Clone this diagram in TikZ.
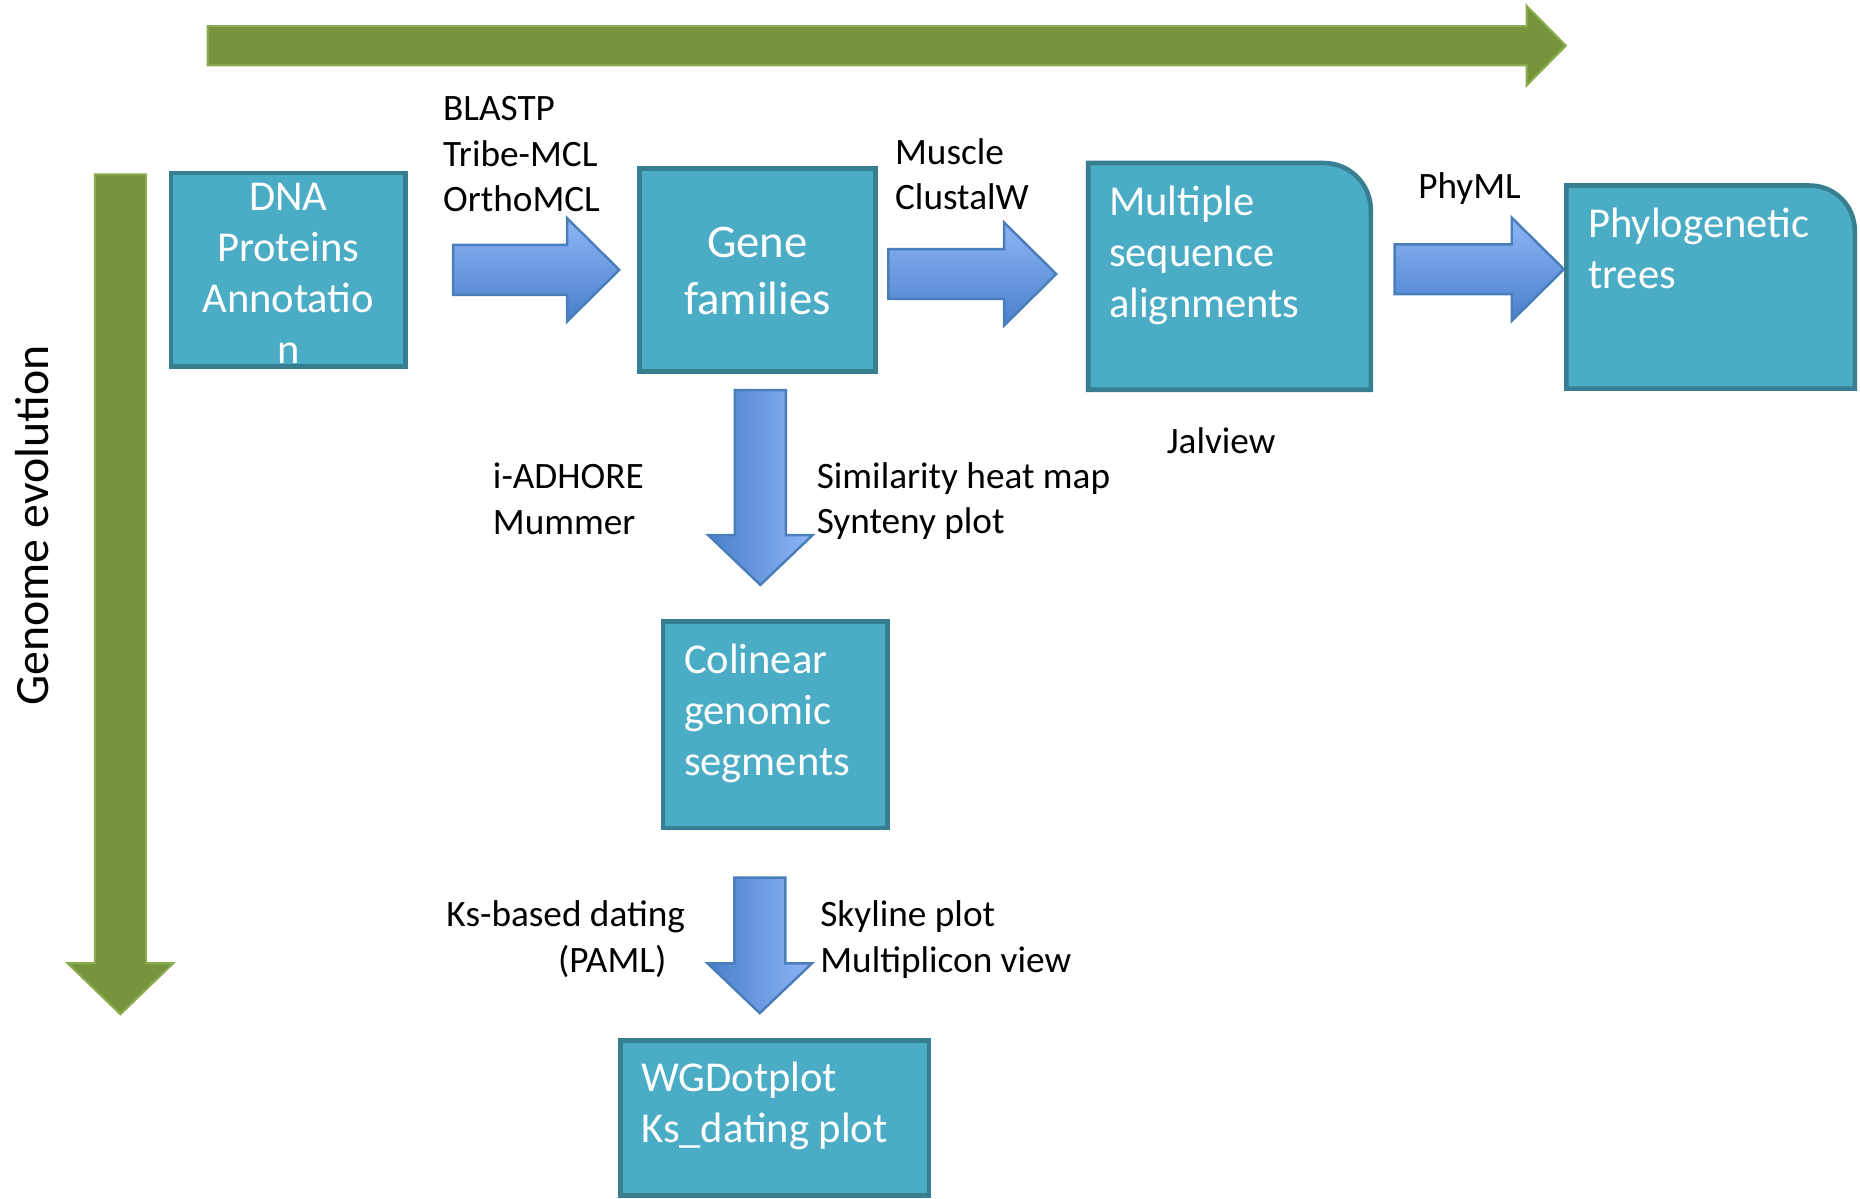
\documentclass[tikz,border=0pt]{standalone}
\usepackage{fontspec}
\setmainfont{Carlito}
\usetikzlibrary{calc, fit}

\definecolor{evogreen}{RGB}{119,147,60}
\definecolor{evoedge}{RGB}{138,172,78}
\definecolor{boxfill}{RGB}{75,172,198}
\definecolor{boxline}{RGB}{56,126,145}
\definecolor{arrowlight}{RGB}{143,182,245}
\definecolor{arrowdark}{RGB}{72,127,204}
\definecolor{arrowline}{RGB}{74,126,187}

% block arrows: #1 = start of shaft, #2 = tip
\newcommand{\rightblock}[2]{%
  \draw[blockarrow, top color=arrowlight, bottom color=arrowdark]
    ($(#1)+(0,-21)$) -- ($(#2)+(-44,-21)$) -- ($(#2)+(-44,-43.5)$) -- (#2)
    -- ($(#2)+(-44,43.5)$) -- ($(#2)+(-44,21)$) -- ($(#1)+(0,21)$) -- cycle;}
\newcommand{\downblock}[2]{%
  \draw[blockarrow, left color=arrowdark, right color=arrowlight]
    ($(#1)+(-21.5,0)$) -- ($(#2)+(-21.5,-42)$) -- ($(#2)+(-44,-42)$) -- (#2)
    -- ($(#2)+(44,-42)$) -- ($(#2)+(21.5,-42)$) -- ($(#1)+(21.5,0)$) -- cycle;}

\begin{document}
\begin{tikzpicture}[x=0.11862mm, y=-0.11862mm,
  stage/.style={draw=boxline, fill=boxfill, line width=1.3pt},
  stagebox/.style={stage, rectangle, inner sep=0pt},
  stagetext/.style={text=white, font=\fontsize{12.1}{14.5}\selectfont, align=left, inner sep=0pt, anchor=north west},
  tool/.style={font=\fontsize{10.6}{12.9}\selectfont, align=left, inner sep=0pt, anchor=north west},
  blockarrow/.style={draw=arrowline, line width=0.7pt, line join=miter},
  evoarrow/.style={fill=evogreen, draw=evoedge, line width=0.6pt}]
  \useasboundingbox (0,0) rectangle (1568,1010);

  % --- green axes ---
  \filldraw[evoarrow] (175,22) -- (1287,22) -- (1287,5) -- (1320,38.5)
    -- (1287,72) -- (1287,55) -- (175,55) -- cycle;
  \filldraw[evoarrow] (80,147) -- (123,147) -- (123,812) -- (146,812)
    -- (101.5,855) -- (57,812) -- (80,812) -- cycle;
  \node[rotate=90, anchor=base, inner sep=0pt, font=\fontsize{13.6}{16}\selectfont] (genome) at (41,443) {Genome evolution};

  % --- boxes ---
  \node[stagebox, fit={(144,146) (342,309)}] (dna) {};
  \node[stagetext, anchor=center, align=center] (dnatext) at ($(dna.center)+(0,3)$) {DNA\\Proteins\\Annotatio\\n};

  \node[stagebox, fit={(539,142) (738,313)}] (gene) {};
  \node[stagetext, anchor=center, align=center, font=\fontsize{13.3}{16.2}\selectfont] (genetext) at ($(gene.center)+(0,1)$) {Gene\\families};

  % rounded top right corner
  \node[fit={(918,138) (1155,328)}, inner sep=0pt] (msa) {};
  \filldraw[stage] (msa.south west) -- (msa.north west) [rounded corners=4.7mm] -- (msa.north east)
    [sharp corners] -- (msa.south east) -- cycle;
  \node[stagetext] (msatext) at ($(msa.north west)+(17,19)$) {Multiple\\sequence\\alignments};

  \node[fit={(1321,157) (1563,327)}, inner sep=0pt] (tree) {};
  \filldraw[stage] (tree.south west) -- (tree.north west) [rounded corners=4.5mm] -- (tree.north east)
    [sharp corners] -- (tree.south east) -- cycle;
  \node[stagetext] (treetext) at ($(tree.north west)+(18,18)$) {Phylogenetic\\trees};

  \node[stagebox, fit={(559,524) (748,698)}] (col) {};
  \node[stagetext] (coltext) at ($(col.north west)+(19,20)$) {Colinear\\genomic\\segments};

  \node[stagebox, fit={(523,877) (783,1008)}] (wgd) {};
  \node[stagetext] (wgdtext) at ($(wgd.north west)+(19,20)$) {WGDotplot\\Ks\_dating plot};

  % --- block arrows ---
  \coordinate (a1s) at ($(dna.east)+(38,0)$);
  \coordinate (a1t) at ($(gene.west)+(-15,0)$);
  \rightblock{a1s}{a1t}
  \coordinate (a2s) at ($(gene.east)+(9,3.5)$);
  \coordinate (a2t) at ($(msa.west)+(-27,-2)$);
  \rightblock{a2s}{a2t}
  \coordinate (a3s) at ($(msa.east)+(20,-6)$);
  \coordinate (a3t) at ($(tree.west)+(-2,-15)$);
  \rightblock{a3s}{a3t}
  \coordinate (a4s) at ($(gene.south)+(2.5,14)$);
  \coordinate (a4t) at ($(col.north)+(-12.5,-29)$);
  \downblock{a4s}{a4t}
  \coordinate (a5s) at ($(col.south)+(-13,40)$);
  \coordinate (a5t) at ($(wgd.north)+(-12.5,-21)$);
  \downblock{a5s}{a5t}

  % --- tool labels ---
  \node[tool] (blast) at (373,81) {BLASTP\\Tribe-MCL\\OrthoMCL};
  \node[tool] (muscle) at (754,116) {Muscle\\ClustalW};
  \node[tool] (phyml) at (1195,145) {PhyML};
  \node[tool] (jalview) at (983,360) {Jalview};
  \node[tool] (adhore) at (415,390) {i-ADHORE\\Mummer};
  \node[tool] (heatmap) at (688,389) {Similarity heat map\\Synteny plot};
  \node[tool, anchor=north east, align=right] (ksdating) at (578,759) {Ks-based dating\\(PAML)\hspace*{0.5em}};
  \node[tool] (skyline) at (691,759) {Skyline plot\\Multiplicon view};
\end{tikzpicture}
\end{document}
